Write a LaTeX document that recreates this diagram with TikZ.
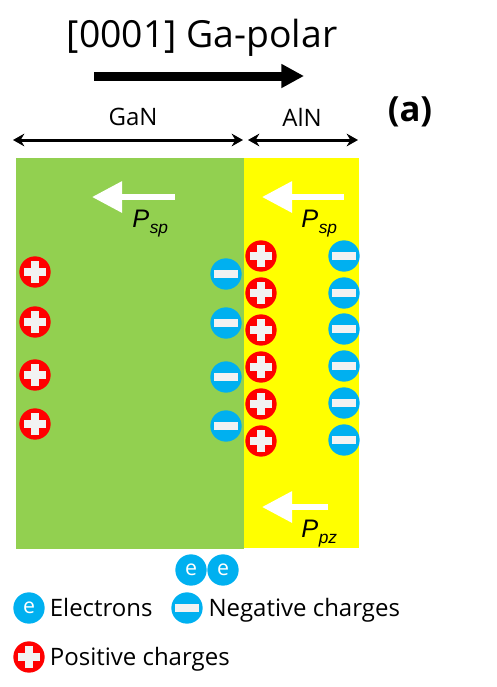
\documentclass[tikz,border=0pt]{standalone}
\usepackage{fontspec}
\setmainfont{Open Sans}
\newfontfamily\arialfont{Liberation Sans}
\usetikzlibrary{shapes,arrows,arrows.meta,positioning}
\definecolor{ganGreen}{HTML}{92D050}
\definecolor{alnYellow}{HTML}{FFFF00}
\definecolor{chgBlue}{HTML}{00B0F0}
\definecolor{chgRed}{HTML}{FF0000}
\definecolor{chgGray}{HTML}{F2F2F2}
\newcommand{\polP}[1]{{\arialfont\itshape\fontsize{19}{19}\selectfont P\kern0.5pt\raisebox{-0.5ex}{\fontsize{13}{13}\selectfont #1}}}
\tikzset{
  chg/.style = {circle, inner sep=0pt, minimum size=23.5pt},
  chg_p/.style = {chg, fill=chgRed, path picture={
      \fill[chgGray] (path picture bounding box.center) ++(-8.5pt,-3.2pt) rectangle ++(17pt,6.4pt);
      \fill[chgGray] (path picture bounding box.center) ++(-3.2pt,-8.5pt) rectangle ++(6.4pt,17pt);}},
  chg_n/.style = {chg, fill=chgBlue, path picture={
      \fill[chgGray] (path picture bounding box.center) ++(-9pt,-2.8pt) rectangle ++(18pt,5.6pt);}},
  chg_e/.style = {chg, fill=chgBlue, text=white, font=\fontsize{16}{16}\selectfont},
    % legend text
  legTxt/.style = {font=\fontsize{18}{18}\selectfont, text height=12.9pt, text depth=0pt, inner sep=2pt},
  polArr/.style = {white, line width=4.5pt, -{Triangle[length=22.5pt,width=22.5pt]}},
  thkArr/.style = {line width=2.25pt, {Stealth[length=8.5pt,width=9.5pt]}-{Stealth[length=8.5pt,width=9.5pt]}}
}

\begin{document}
\begin{tikzpicture}[x=0.75pt, y=-0.75pt, >=stealth']
\useasboundingbox (0,0) rectangle (497,687);
% layers
\fill[ganGreen] (16,158) rectangle (244,549);
\fill[alnYellow] (244,158) rectangle (359,548);

\node[font=\fontsize{28}{32}\selectfont] (title) at (202,38) {[0001] Ga-polar};
\coordinate (dirA) at (94,76);
\coordinate (dirB) at (304,76);
\draw[line width=6.75pt, -{Triangle[length=17pt,width=17pt]}] (dirA) -- (dirB);

\node[font=\fontsize{18}{18}\selectfont] (lblGaN) at (133,117) {GaN};
\node[font=\fontsize{18}{18}\selectfont] (lblAlN) at (302,117) {AlN};
\node[font=\bfseries\fontsize{26}{30}\selectfont] (lblA) at (410,112) {(a)};
\coordinate (ganL) at (13,140);
\coordinate (ganR) at (243,140);
\coordinate (alnL) at (248,140);
\coordinate (alnR) at (358,140);
\draw[thkArr] (ganL) -- (ganR);
\draw[thkArr] (alnL) -- (alnR);

% polarization arrows
\coordinate (pspGt) at (175,197);
\coordinate (pspGh) at (92,197);
\coordinate (pspAt) at (344,197);
\coordinate (pspAh) at (262,197);
\coordinate (ppzAt) at (328,507);
\coordinate (ppzAh) at (262,507);
\draw[polArr] (pspGt) -- (pspGh);
\draw[polArr] (pspAt) -- (pspAh);
\draw[polArr] (ppzAt) -- (ppzAh);
\node[anchor=base west, inner sep=0pt] (pspG) at (132,227) {\polP{sp}};
\node[anchor=base west, inner sep=0pt] (pspA) at (301,227) {\polP{sp}};
\node[anchor=base west, inner sep=0pt] (ppzA) at (301,537) {\polP{pz}};

% GaN charges
\node[chg_p] (gp1) at (35,272) {};
\node[chg_p] (gp2) at (35,322) {};
\node[chg_p] (gp3) at (35,375) {};
\node[chg_p] (gp4) at (35,424) {};
\node[chg_n] (gn1) at (226,274) {};
\node[chg_n] (gn2) at (226,323) {};
\node[chg_n] (gn3) at (226,377) {};
\node[chg_n] (gn4) at (226,426) {};

% AlN charges
\node[chg_p] (ap1) at (261,256) {};
\node[chg_p] (ap2) at (261,293) {};
\node[chg_p] (ap3) at (261,330) {};
\node[chg_p] (ap4) at (261,367) {};
\node[chg_p] (ap5) at (261,404) {};
\node[chg_p] (ap6) at (261,441) {};
\node[chg_n] (an1) at (344,256) {};
\node[chg_n] (an2) at (344,293) {};
\node[chg_n] (an3) at (344,329) {};
\node[chg_n] (an4) at (344,366) {};
\node[chg_n] (an5) at (344,403) {};
\node[chg_n] (an6) at (344,440) {};

% 2DEG
\node[chg_e] (ee1) at (191,570) {e};
\node[chg_e] (ee2) at (223,570) {e};

% legend
\node[chg_e] (legE) at (29,608) {e};
\node[legTxt, right=1.5pt of legE] (legEt) {Electrons};
\node[chg_n] (legN) at (187,608) {};
\node[legTxt, right=2pt of legN] (legNt) {Negative charges};
\node[chg_p] (legP) at (29,657) {};
\node[legTxt, right=1.5pt of legP] (legPt) {Positive charges};
\end{tikzpicture}
\end{document}
